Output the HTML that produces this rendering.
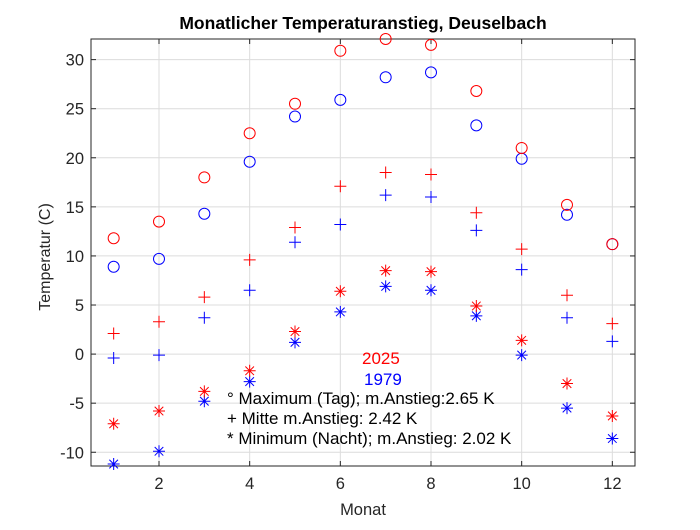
<!DOCTYPE html>
<html><head><meta charset="utf-8"><style>
body{margin:0;background:#fff;font-family:"Liberation Sans",sans-serif}
text{font-family:"Liberation Sans",sans-serif}
</style></head><body>
<svg id="c" width="700" height="525" viewBox="0 0 700 525"></svg>
<script>
const months=[1,2,3,4,5,6,7,8,9,10,11,12];
const max2025=[11.8,13.5,18,22.5,25.5,30.9,32.1,31.5,26.8,21,15.2,11.2];
const max1979=[8.9,9.7,14.3,19.6,24.2,25.9,28.2,28.7,23.3,19.9,14.2,11.2];
const mid2025=[2.1,3.3,5.8,9.6,12.9,17.1,18.5,18.3,14.4,10.7,6.0,3.1];
const mid1979=[-0.4,-0.1,3.7,6.5,11.4,13.2,16.2,16.0,12.6,8.6,3.7,1.3];
const min2025=[-7.1,-5.8,-3.8,-1.7,2.3,6.4,8.5,8.4,4.9,1.4,-3.0,-6.3];
const min1979=[-11.2,-9.9,-4.8,-2.8,1.2,4.3,6.9,6.5,3.9,-0.1,-5.5,-8.6];
const xTicks=[2,4,6,8,10,12];
const yTicks=[-10,-5,0,5,10,15,20,25,30];
const L=91,R=635,T=39,B=466,x0=0.5,x1=12.5,y0=-11.4,y1=32.1;
const sx=v=>L+(v-x0)/(x1-x0)*(R-L);
const sy=v=>B-(v-y0)/(y1-y0)*(B-T);
const svg=document.getElementById('c');const NS='http://www.w3.org/2000/svg';
function mk(t,a,p){const e=document.createElementNS(NS,t);for(const k in a)e.setAttribute(k,a[k]);(p||svg).appendChild(e);return e;}
let e;
e=mk('rect',{x:L,y:T,width:R-L,height:B-T,fill:'#fff'});

xTicks.forEach(t=>{const x=sx(t);
 e=mk('line',{x1:x,x2:x,y1:T,y2:B,stroke:'#dcdcdc','stroke-width':1});
 
 mk('line',{x1:x,x2:x,y1:B,y2:B-5,stroke:'#262626'});mk('line',{x1:x,x2:x,y1:T,y2:T+5,stroke:'#262626'});
 e=mk('text',{x:x,y:B+23,'text-anchor':'middle','font-size':16.5,fill:'#262626'});e.textContent=t;
 });
yTicks.forEach(t=>{const y=sy(t);
 e=mk('line',{x1:L,x2:R,y1:y,y2:y,stroke:'#dcdcdc','stroke-width':1});
 
 mk('line',{x1:L,x2:L+5,y1:y,y2:y,stroke:'#262626'});mk('line',{x1:R,x2:R-5,y1:y,y2:y,stroke:'#262626'});
 e=mk('text',{x:L-7,y:y+6,'text-anchor':'end','font-size':16.5,fill:'#262626'});e.textContent=t;
 });
e=mk('rect',{x:L,y:T,width:R-L,height:B-T,fill:'none',stroke:'#262626','stroke-width':1});

function circ(arr,col,name){arr.forEach((v,i)=>{e=mk('circle',{cx:sx(months[i]),cy:sy(v),r:5.5,fill:'none',stroke:col,'stroke-width':1});
 });}
function plus(arr,col,name){arr.forEach((v,i)=>{const x=sx(months[i]),y=sy(v);
 e=mk('path',{d:`M${x-6},${y}H${x+6}M${x},${y-6}V${y+6}`,stroke:col,'stroke-width':1,fill:'none'});
 });}
function star(arr,col,name){arr.forEach((v,i)=>{const x=sx(months[i]),y=sy(v);
 e=mk('path',{d:`M${x-6},${y}H${x+6}M${x},${y-6}V${y+6}M${x-4.3},${y-4.3}L${x+4.3},${y+4.3}M${x-4.3},${y+4.3}L${x+4.3},${y-4.3}`,stroke:col,'stroke-width':1,fill:'none'});
 });}
circ(max1979,'#0000ff','max-1979-point');circ(max2025,'#ff0000','max-2025-point');
plus(mid1979,'#0000ff','mid-1979-point');plus(mid2025,'#ff0000','mid-2025-point');
star(min1979,'#0000ff','min-1979-point');star(min2025,'#ff0000','min-2025-point');
</script>
<svg style="position:absolute;left:0;top:0" width="700" height="525">
<text x="363" y="29" text-anchor="middle" font-size="17.5" font-weight="bold" fill="#000">Monatlicher Temperaturanstieg, Deuselbach</text>
<text x="363" y="515" text-anchor="middle" font-size="16.5" fill="#262626">Monat</text>
<text transform="translate(50,257) rotate(-90)" text-anchor="middle" font-size="16" fill="#262626">Temperatur (C)</text>
<text x="362" y="364" font-size="17" fill="#ff0000">2025</text>
<text x="364" y="385" font-size="17" fill="#0000ff">1979</text>
<text x="227" y="404" font-size="17" fill="#000">° Maximum (Tag); m.Anstieg:2.65 K</text>
<text x="227" y="424" font-size="17" fill="#000">+ Mitte m.Anstieg: 2.42 K</text>
<text x="227" y="444" font-size="17" fill="#000">* Minimum (Nacht); m.Anstieg: 2.02 K</text>
</svg>
</body></html>
